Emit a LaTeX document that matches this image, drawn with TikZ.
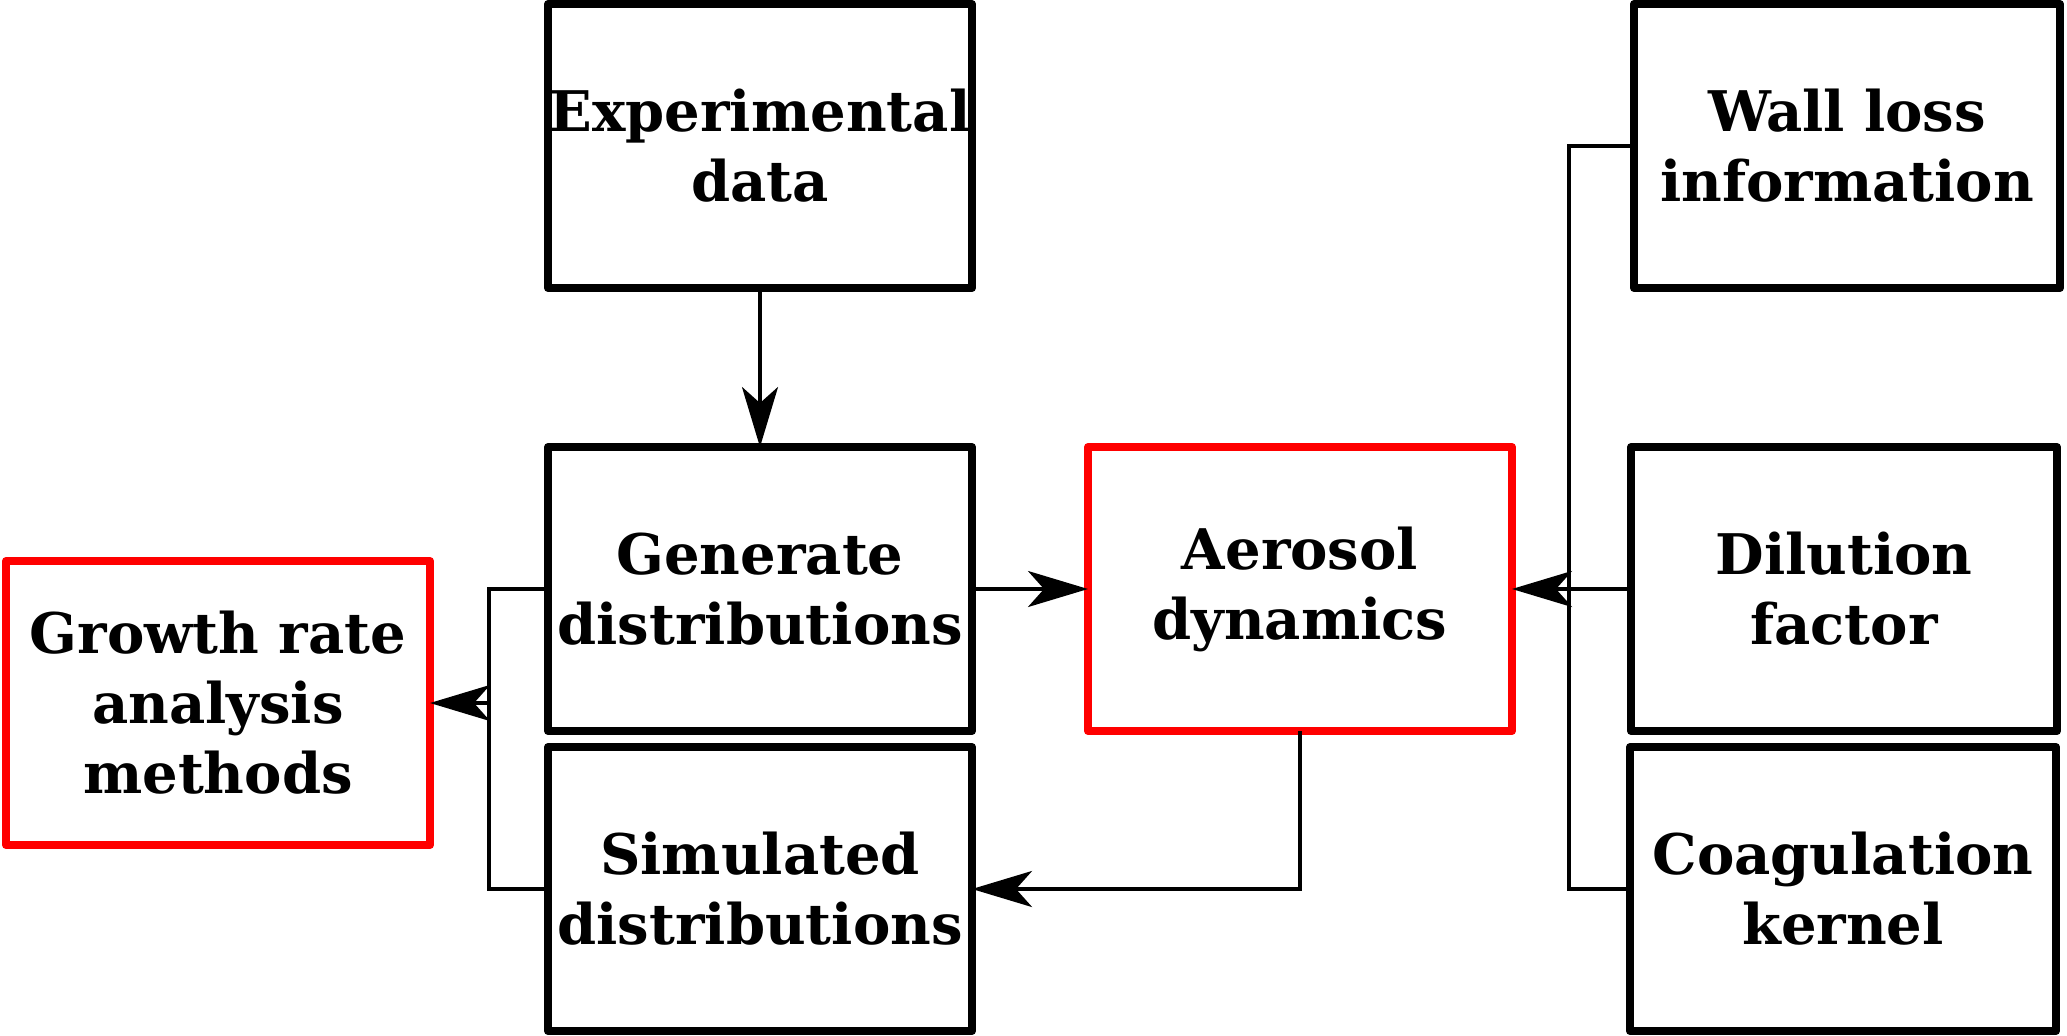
\documentclass[tikz,border=0pt]{standalone}
\usepackage{fontspec}
\setmainfont{DejaVu Serif}
\usetikzlibrary{arrows.meta}
\begin{document}
\begin{tikzpicture}[x=1pt,y=-1pt,
  boxnode/.style={draw=black,line width=8pt,line join=round,rectangle,minimum width=424pt,minimum height=284pt,inner sep=0pt,outer sep=0pt,align=center,font=\fontsize{56}{70}\selectfont\bfseries},
  rednode/.style={boxnode,draw=red},
  conn/.style={line width=3.5pt},
  arr/.style={conn,-{Stealth[length=60pt,width=36pt,inset=16pt]}}]
\useasboundingbox (0,0) rectangle (2067,1036);
% boxes
\node[boxnode] (exp) at (760,146) {Experimental\\data};
\node[boxnode] (gen) at (760,589) {Generate\\distributions};
\node[boxnode] (sim) at (760,889) {Simulated\\distributions};
\node[rednode] (aer) at (1300,589) {Aerosol\\dynamics};
\node[rednode] (gro) at (218,703) {Growth rate\\analysis\\methods};
\node[boxnode,minimum width=426pt] (wall) at (1847,146) {Wall loss\\information};
\node[boxnode,minimum width=426pt] (dil) at (1844,589) {Dilution\\factor};
\node[boxnode,minimum width=426pt] (coa) at (1843,889) {Coagulation\\kernel};
% junctions
\coordinate (jl) at (489,703);
\coordinate (jr) at (1569,589);
% connectors
\draw[arr] (exp) -- (gen);
\draw[arr] (gen) -- (aer);
\draw[conn] (gen.west) -| (jl) |- (sim.west);
\draw[arr] (jl) -- (gro.east);
\draw[conn] (wall.west) -| (jr) |- (coa.west);
\draw[conn] (dil.west) -- (jr);
\draw[arr] (jr) -- (aer.east);
\draw[arr] (aer.south) |- (sim.east);
\end{tikzpicture}
\end{document}
